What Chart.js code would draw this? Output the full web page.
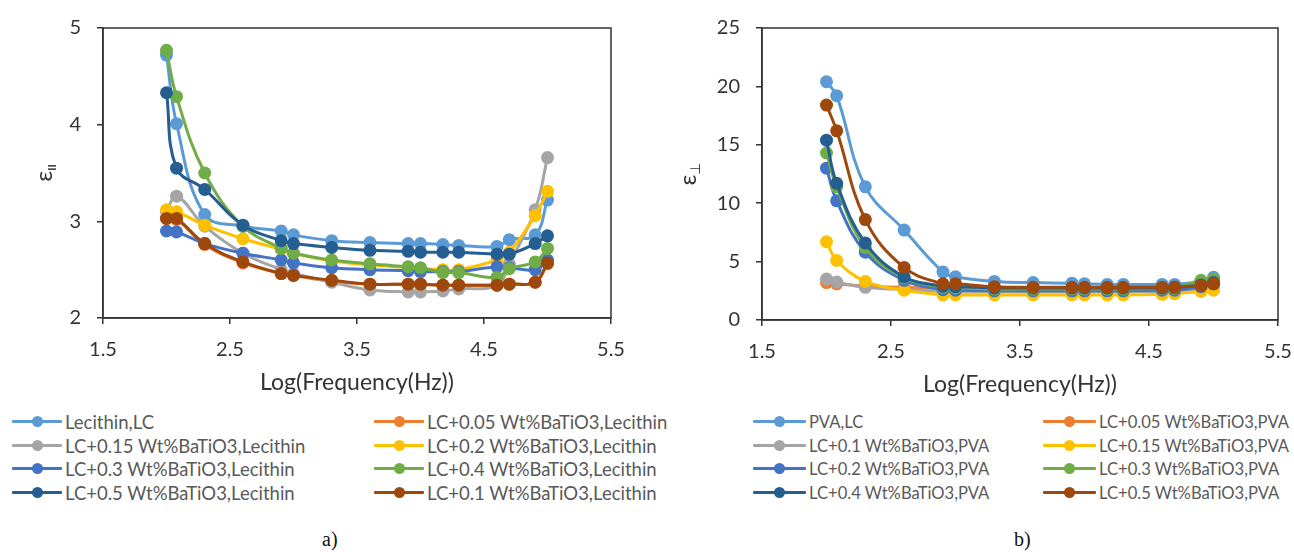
<!DOCTYPE html>
<html>
<head>
<meta charset="utf-8">
<script src="https://cdn.jsdelivr.net/npm/chart.js@4.4.0/dist/chart.umd.min.js"></script>
<style>
  body { margin: 0; background: #fff; width: 1294px; height: 552px; position: relative; overflow: hidden; font-family: Lato, sans-serif; }
  canvas { position: absolute; top: 0; }
  #chartA { left: 0; }
  #chartB { left: 650px; }
  .item { position: absolute; height: 22px; line-height: 22px; color: #595959; white-space: nowrap; }
  .mark { position: absolute; top: 9px; height: 3px; border-radius: 1px; }
  .dot { position: absolute; top: 5px; width: 11px; height: 11px; border-radius: 50%; }
  .cap { position: absolute; top: 528px; font: 20px "Liberation Serif", serif; color: #111; }
</style>
</head>
<body>
<canvas id="chartA" width="650" height="410"></canvas>
<canvas id="chartB" width="644" height="410"></canvas>
<div class="cap" style="left:322px">a)</div>
<div class="cap" style="left:1014px">b)</div>
<script>

// log10 of the measuring frequencies (100 Hz ... 100 kHz)
var logF = [2, 2.079, 2.301, 2.602, 2.903, 3, 3.301, 3.602, 3.903, 4, 4.176, 4.301, 4.602, 4.699, 4.903, 5];

var xTicks = [1.5, 2.5, 3.5, 4.5, 5.5];
var yTicksA = [2, 3, 4, 5];
var yTicksB = [0, 5, 10, 15, 20, 25];

// a) parallel permittivity, lecithin cells
var namesA = ["Lecithin,LC", "LC+0.05 Wt%BaTiO3,Lecithin", "LC+0.15 Wt%BaTiO3,Lecithin", "LC+0.2 Wt%BaTiO3,Lecithin",
              "LC+0.3 Wt%BaTiO3,Lecithin", "LC+0.4 Wt%BaTiO3,Lecithin", "LC+0.5 Wt%BaTiO3,Lecithin", "LC+0.1 Wt%BaTiO3,Lecithin"];
var lecLC  = [4.72, 4.01, 3.07, 2.95, 2.90, 2.86, 2.80, 2.78, 2.77, 2.77, 2.76, 2.75, 2.74, 2.81, 2.86, 3.22];
var lec005 = [3.03, 3.02, 2.76, 2.57, 2.46, 2.44, 2.38, 2.35, 2.35, 2.35, 2.34, 2.34, 2.34, 2.35, 2.37, 2.56];
var lec015 = [3.10, 3.26, 2.95, 2.67, 2.50, 2.46, 2.37, 2.29, 2.27, 2.27, 2.28, 2.30, 2.34, 2.56, 3.12, 3.66];
var lec02  = [3.12, 3.10, 2.96, 2.82, 2.71, 2.67, 2.59, 2.55, 2.52, 2.51, 2.50, 2.50, 2.60, 2.68, 3.06, 3.31];
var lec03  = [2.90, 2.89, 2.77, 2.67, 2.60, 2.57, 2.52, 2.50, 2.49, 2.48, 2.48, 2.48, 2.53, 2.52, 2.50, 2.60];
var lec04  = [4.77, 4.29, 3.50, 2.95, 2.72, 2.67, 2.60, 2.56, 2.53, 2.52, 2.47, 2.47, 2.42, 2.51, 2.58, 2.72];
var lec05  = [4.33, 3.55, 3.33, 2.96, 2.80, 2.77, 2.73, 2.70, 2.69, 2.68, 2.68, 2.68, 2.66, 2.66, 2.77, 2.85];
var lec01  = [3.03, 3.03, 2.77, 2.58, 2.46, 2.44, 2.39, 2.35, 2.35, 2.35, 2.34, 2.34, 2.34, 2.35, 2.37, 2.57];

// b) perpendicular permittivity, PVA cells
var namesB = ["PVA,LC", "LC+0.05 Wt%BaTiO3,PVA", "LC+0.1 Wt%BaTiO3,PVA", "LC+0.15 Wt%BaTiO3,PVA",
              "LC+0.2 Wt%BaTiO3,PVA", "LC+0.3 Wt%BaTiO3,PVA", "LC+0.4 Wt%BaTiO3,PVA", "LC+0.5 Wt%BaTiO3,PVA"];
var pvaLC  = [20.4, 19.2, 11.4, 7.7, 4.1, 3.7, 3.3, 3.2, 3.15, 3.1, 3.05, 3.05, 3.05, 3.05, 3.3, 3.65];
var pva005 = [3.2, 3.1, 2.9, 2.8, 2.7, 2.7, 2.65, 2.6, 2.6, 2.6, 2.6, 2.6, 2.6, 2.6, 2.8, 2.9];
var pva01  = [3.5, 3.25, 2.8, 2.6, 2.45, 2.4, 2.4, 2.4, 2.4, 2.4, 2.4, 2.4, 2.45, 2.45, 2.6, 2.7];
var pva015 = [6.7, 5.1, 3.3, 2.55, 2.15, 2.15, 2.15, 2.15, 2.15, 2.15, 2.15, 2.15, 2.2, 2.25, 2.45, 2.55];
var pva02  = [13.0, 10.2, 5.8, 3.4, 2.6, 2.55, 2.5, 2.5, 2.5, 2.5, 2.5, 2.5, 2.55, 2.55, 2.85, 3.1];
var pva03  = [14.3, 11.4, 6.2, 3.6, 2.8, 2.75, 2.65, 2.65, 2.65, 2.65, 2.65, 2.65, 2.7, 2.7, 3.4, 3.5];
var pva04  = [15.4, 11.7, 6.6, 3.7, 2.9, 2.85, 2.75, 2.75, 2.75, 2.75, 2.75, 2.75, 2.75, 2.8, 3.0, 3.2];
var pva05  = [18.4, 16.2, 8.6, 4.5, 3.1, 3.1, 2.85, 2.8, 2.8, 2.8, 2.8, 2.8, 2.8, 2.8, 2.95, 3.1];

var palette = ["#5B9BD5", "#ED7D31", "#A5A5A5", "#FFC000", "#4472C4", "#70AD47", "#255E91", "#9E480E"];

var valuesA = [lecLC, lec005, lec015, lec02, lec03, lec04, lec05, lec01];
var valuesB = [pvaLC, pva005, pva01, pva015, pva02, pva03, pva04, pva05];

//------------------------------------------------------------------

// box around the plot area
var frame = {
    id: "frame",
    afterDraw: function(chart){
        var a = chart.chartArea, ctx = chart.ctx;
        ctx.save();
        ctx.strokeStyle = "#333";
        ctx.lineWidth = 1.5;
        ctx.strokeRect(a.left, a.top, a.right - a.left, a.bottom - a.top);
        ctx.restore();
    }
};

// rotated epsilon with a subscript for the y axis
var epsTitle = {
    id: "epsTitle",
    afterDraw: function(chart, args, opts){
        var a = chart.chartArea, ctx = chart.ctx;
        ctx.save();
        ctx.translate(opts.x, (a.top + a.bottom) / 2);
        ctx.rotate(-Math.PI / 2);
        ctx.fillStyle = "#333";
        ctx.font = "24px Lato";
        var w1 = ctx.measureText("ε").width;
        ctx.font = opts.subFont;
        var w2 = ctx.measureText(opts.sub).width;
        var x0 = -(w1 + w2) / 2;
        ctx.font = "24px Lato";
        ctx.fillText("ε", x0, 6);
        ctx.font = opts.subFont;
        ctx.fillText(opts.sub, x0 + w1, 10);
        ctx.restore();
    }
};

function makeSets(values){
    var sets = [];
    for (let i = 0; i < values.length; i++) {
        sets.push({
            data: logF.map(function(x, j){ return {x: x, y: values[i][j]}; }),
            borderColor: palette[i],
            backgroundColor: palette[i],
            borderWidth: 3,
            pointRadius: 6.5,
            pointBorderWidth: 0,
            tension: 0.4,
            order: values.length - i
        });
    }
    return sets;
}

function makeChart(id, values, yTicks, yWidth, pad, sub, subFont, titleX){
    var tickFont = {family: "Lato", size: 20};
    return new Chart(document.getElementById(id), {
        type: "line",
        data: {datasets: makeSets(values)},
        options: {
            responsive: false,
            animation: false,
            layout: {padding: pad},
            plugins: {
                legend: {display: false},
                tooltip: {enabled: false},
                epsTitle: {x: titleX, sub: sub, subFont: subFont}
            },
            scales: {
                x: {
                    type: "linear",
                    min: xTicks[0], max: xTicks[xTicks.length - 1],
                    afterBuildTicks: function(s){ s.ticks = xTicks.map(function(v){ return {value: v}; }); },
                    afterFit: function(s){ s.height = 80; s.paddingLeft = 0; s.paddingRight = 0; },
                    ticks: {color: "#333", font: tickFont, padding: 14, maxRotation: 0,
                            callback: function(v){ return v.toFixed(1); }},
                    grid: {drawOnChartArea: false, tickLength: 6, color: "#333", lineWidth: 1.5},
                    border: {color: "#333", width: 1.5},
                    title: {display: true, text: "Log(Frequency(Hz))", color: "#333",
                            font: {family: "Lato", size: 23}, padding: {top: 0, bottom: 2}}
                },
                y: {
                    min: yTicks[0], max: yTicks[yTicks.length - 1],
                    afterBuildTicks: function(s){ s.ticks = yTicks.map(function(v){ return {value: v}; }); },
                    afterFit: function(s){ s.width = yWidth; },
                    ticks: {color: "#333", font: tickFont, padding: 16},
                    grid: {drawOnChartArea: false, tickLength: 6, color: "#333", lineWidth: 1.5},
                    border: {color: "#333", width: 1.5}
                }
            }
        },
        plugins: [frame, epsTitle]
    });
}

makeChart("chartA", valuesA, yTicksA, 103, {top: 21, right: 39, bottom: 12, left: 0}, "II", "bold 11px Lato", 46);
makeChart("chartB", valuesB, yTicksB, 112, {top: 27, right: 16, bottom: 10, left: 0}, "⊥", "14px 'DejaVu Sans'", 40);

//------------------------------------------------------------------

// legends below each chart, two columns of four rows
var rowsY = [422, 446, 469, 493];

function makeLegend(names, colX, lineW, fontSize){
    for (let i = 0; i < names.length; i++) {
        var col = i % 2, row = Math.floor(i / 2);
        var div = document.createElement("div");
        div.className = "item";
        div.style.left = colX[col] + "px";
        div.style.top = (rowsY[row] - 11) + "px";
        div.style.fontSize = fontSize + "px";
        div.style.paddingLeft = (lineW + 3) + "px";
        div.innerHTML = '<span class="mark" style="left:0;width:' + lineW + 'px;background:' + palette[i] + '"></span>' +
                        '<span class="dot" style="left:' + (lineW / 2 - 5.5) + 'px;background:' + palette[i] + '"></span>' +
                        names[i];
        document.body.appendChild(div);
    }
}

makeLegend(namesA, [12, 374], 50, 18.5);
makeLegend(namesB, [753, 1043], 53, 16.6);

</script>
</body>
</html>
